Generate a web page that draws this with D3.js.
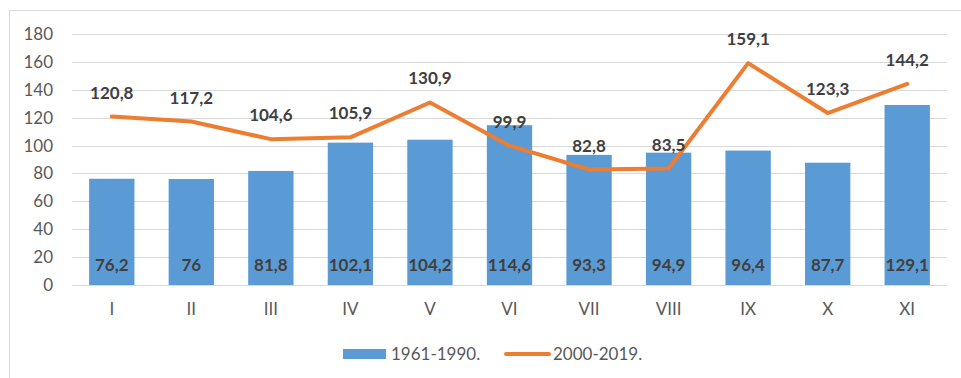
<!DOCTYPE html>
<html>
<head>
<meta charset="utf-8">
<script src="https://cdn.jsdelivr.net/npm/d3@7"></script>
<style>
  html, body { margin: 0; padding: 0; background: #fff; }
  svg { display: block; font-family: Lato, "Open Sans", sans-serif; }
</style>
</head>
<body>
<svg id="chart" width="961" height="378"></svg>
<script>
const months = ["I", "II", "III", "IV", "V", "VI", "VII", "VIII", "IX", "X", "XI"];
const base1961 = [76.2, 76, 81.8, 102.1, 104.2, 114.6, 93.3, 94.9, 96.4, 87.7, 129.1];
const recent2000 = [120.8, 117.2, 104.6, 105.9, 130.9, 99.9, 82.8, 83.5, 159.1, 123.3, 144.2];
const yTicks = [0, 20, 40, 60, 80, 100, 120, 140, 160, 180];
const seriesNames = ["1961-1990.", "2000-2019."];

const fmt = v => String(v).replace(".", ",");

const svg = d3.select("#chart");
const blue = "#5B9BD5", orange = "#ED7D31";
const textDark = "#404040", textAxis = "#595959";
const fontFam = "Lato, 'Open Sans', sans-serif";
const fs = 17;

// outer chart frame
svg.append("rect")
  .attr("x", 9.5).attr("y", 10.5)
  .attr("width", 1000).attr("height", 400)
  .attr("fill", "none").attr("stroke", "#d9d9d9").attr("stroke-width", 1);

const plotLeft = 72, plotRight = 947, plotTop = 34, plotBottom = 285;

const x = d3.scaleBand().domain(months).range([plotLeft, plotRight]).paddingInner(0.43).paddingOuter(0.215);
const xc = d3.scaleBand().domain(months).range([plotLeft, plotRight]);
const y = d3.scaleLinear().domain([0, 180]).range([plotBottom, plotTop]);

// gridlines
svg.append("g").selectAll("line").data(yTicks).join("line")
  .attr("x1", plotLeft).attr("x2", plotRight)
  .attr("y1", d => Math.round(y(d)) + 0.5).attr("y2", d => Math.round(y(d)) + 0.5)
  .attr("stroke", "#d9d9d9").attr("stroke-width", 1);

// y axis labels
const yAxis = d3.axisLeft(y).tickValues(yTicks).tickSize(0).tickPadding(0);
const gy = svg.append("g").attr("transform", `translate(${plotLeft - 19},0)`).call(yAxis);
gy.select(".domain").remove();
gy.selectAll("text").attr("font-size", fs).attr("fill", textAxis).attr("font-family", fontFam);

// x axis labels
const xAxis = d3.axisBottom(xc).tickSize(0).tickPadding(0);
const gx = svg.append("g").attr("transform", `translate(0,${plotBottom + 18})`).call(xAxis);
gx.select(".domain").remove();
gx.selectAll("text").attr("font-size", fs).attr("fill", textAxis).attr("font-family", fontFam);

// bars
svg.append("g").selectAll("rect").data(base1961).join("rect")
  .attr("x", (d, i) => x(months[i]))
  .attr("width", x.bandwidth())
  .attr("y", d => y(d))
  .attr("height", d => y(0) - y(d))
  .attr("fill", blue);

// bar value labels at the base
svg.append("g").selectAll("text").data(base1961).join("text")
  .attr("x", (d, i) => x(months[i]) + x.bandwidth() / 2)
  .attr("y", y(0) - 14)
  .attr("text-anchor", "middle")
  .attr("font-size", fs).attr("font-weight", "bold").attr("fill", textDark)
  .text(d => fmt(d));

// line series
const line = d3.line()
  .x((d, i) => xc(months[i]) + xc.bandwidth() / 2)
  .y(d => y(d));
svg.append("path").datum(recent2000)
  .attr("d", line)
  .attr("fill", "none").attr("stroke", orange)
  .attr("stroke-width", 4).attr("stroke-linejoin", "round").attr("stroke-linecap", "round");

svg.append("g").selectAll("text").data(recent2000).join("text")
  .attr("x", (d, i) => xc(months[i]) + xc.bandwidth() / 2)
  .attr("y", d => y(d) - 18)
  .attr("text-anchor", "middle")
  .attr("font-size", fs).attr("font-weight", "bold").attr("fill", textDark)
  .text(d => fmt(d));

// legend
const lg = svg.append("g").attr("transform", "translate(0,354)");
lg.append("rect").attr("x", 343).attr("y", -5).attr("width", 43).attr("height", 10).attr("fill", blue);
lg.append("text").attr("x", 391).attr("y", 0).attr("dy", "0.35em")
  .attr("font-size", fs).attr("fill", textAxis).text(seriesNames[0]);
lg.append("line").attr("x1", 506).attr("x2", 549).attr("y1", 0).attr("y2", 0)
  .attr("stroke", orange).attr("stroke-width", 4).attr("stroke-linecap", "round");
lg.append("text").attr("x", 553).attr("y", 0).attr("dy", "0.35em")
  .attr("font-size", fs).attr("fill", textAxis).text(seriesNames[1]);
</script>
</body>
</html>
